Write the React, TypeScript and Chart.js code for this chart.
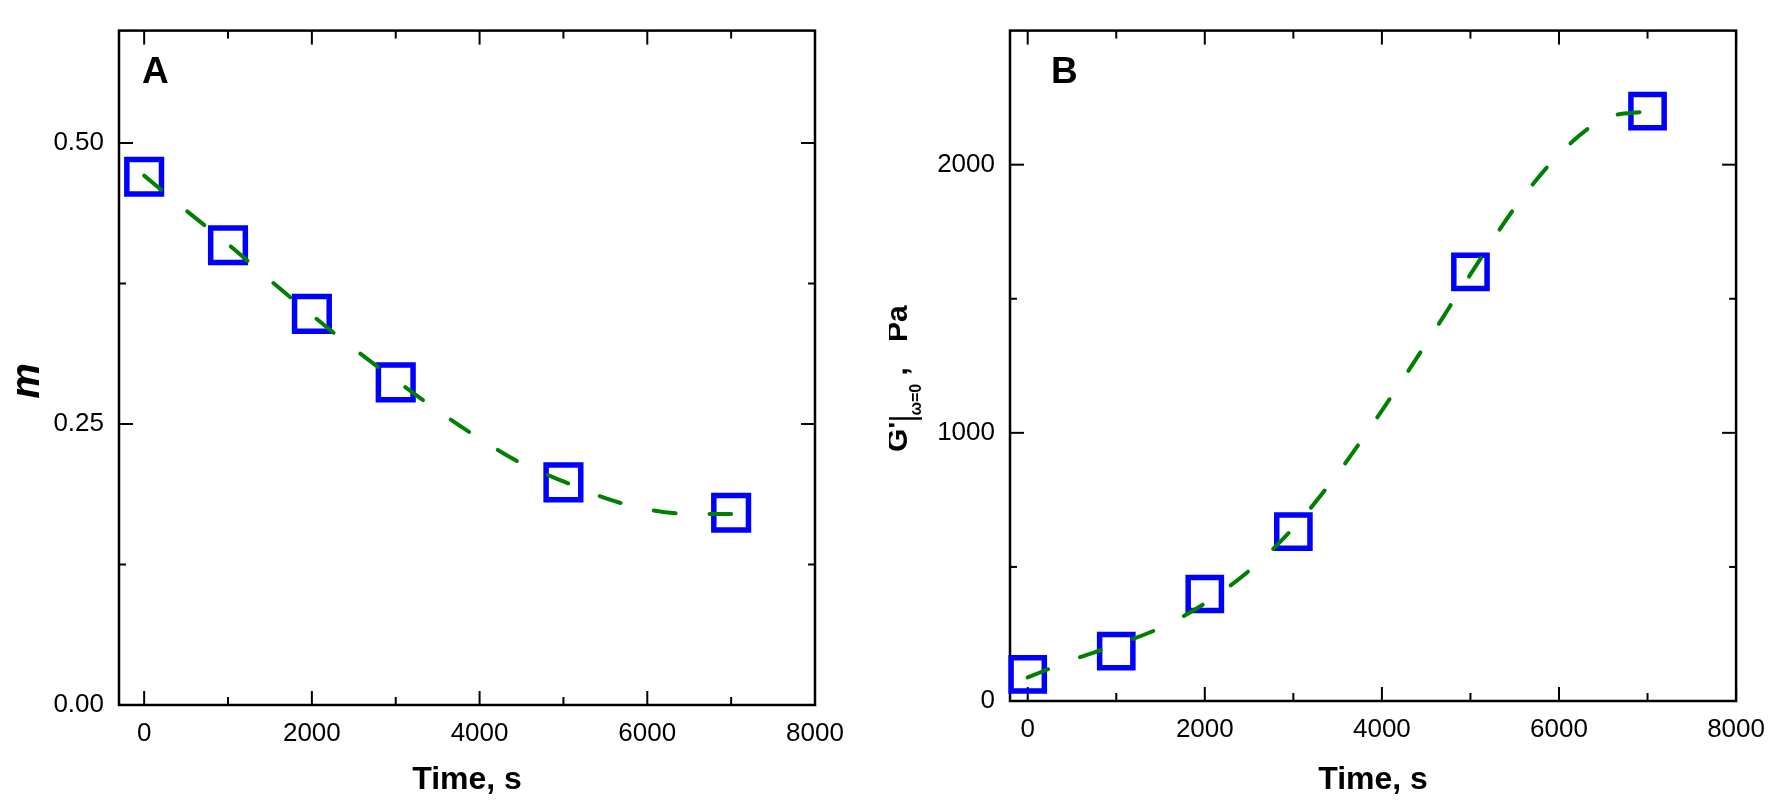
import { useEffect, useRef } from 'react';
import { Chart, registerables } from 'chart.js';

Chart.register(...registerables);

const FONT = '"Liberation Sans", Arial, Helvetica, sans-serif';

// Panel A: m vs time
const timeA = [0, 1000, 2000, 3000, 5000, 7000];
const mValues = [0.47, 0.409, 0.348, 0.287, 0.198, 0.171];
const fitTimeA = [0, 500, 1000, 1500, 2000, 2500, 3000, 3500, 4000, 4500, 5000, 5500, 6000, 6500, 7000];
const fitA = [0.471, 0.44, 0.41, 0.378, 0.347, 0.317, 0.289, 0.262, 0.237, 0.215, 0.199, 0.184, 0.174, 0.17, 0.17];

// Panel B: G' at zero frequency vs time
const timeB = [0, 1000, 2000, 3000, 5000, 7000];
const gValues = [99, 186, 399, 632, 1600, 2200];
const fitTimeB = [0, 500, 1000, 1500, 2000, 2500, 3000, 3500, 4000, 4500, 5000, 5500, 6000, 6500, 7000];
const fitB = [88, 153, 209, 273, 364, 486, 645, 848, 1083, 1333, 1591, 1839, 2038, 2170, 2200];

// ticks (every value gets a tick mark, majors get a label)
const xTicks = [0, 1000, 2000, 3000, 4000, 5000, 6000, 7000, 8000];
const yTicksA = [0, 0.125, 0.25, 0.375, 0.5];
const yTicksB = [0, 500, 1000, 1500, 2000];

const isMajor = (v: number, step: number) => Math.abs(v / step - Math.round(v / step)) < 1e-6;

interface PanelProps {
  letter: string;
  letterDx: number;
  xMin: number;
  xMax: number;
  yMin: number;
  yMax: number;
  yTicks: number[];
  yMajor: number;
  yDecimals: number;
  fitX: number[];
  fitY: number[];
  ptX: number[];
  ptY: number[];
  pointRadius: number;
  axisWidth: number;
  axisHeight: number;
  padTop: number;
  padRight: number;
  drawYTitle: (ctx: CanvasRenderingContext2D) => void;
}

function drawMTitle(ctx: CanvasRenderingContext2D) {
  ctx.save();
  ctx.translate(28, 381);
  ctx.rotate(-Math.PI / 2);
  ctx.font = `italic bold 40px ${FONT}`;
  ctx.fillStyle = '#000';
  ctx.textAlign = 'center';
  ctx.textBaseline = 'middle';
  ctx.fillText('m', 0, 0);
  ctx.restore();
}

function drawGTitle(ctx: CanvasRenderingContext2D) {
  ctx.save();
  ctx.translate(18, 452);
  ctx.rotate(-Math.PI / 2);
  ctx.fillStyle = '#000';
  ctx.strokeStyle = '#000';
  ctx.textBaseline = 'alphabetic';
  const big = `bold 30px ${FONT}`;
  const small = `bold 16px ${FONT}`;
  let x = 0;
  ctx.font = big;
  ctx.fillText("G'", x, 0);
  x += ctx.measureText("G'").width + 3;
  ctx.lineWidth = 2.5;
  ctx.beginPath();
  ctx.moveTo(x, -22);
  ctx.lineTo(x, 15);
  ctx.stroke();
  x += 3;
  ctx.font = small;
  ctx.fillText('\u03c9=0', x, 14);
  x += ctx.measureText('\u03c9=0').width;
  ctx.font = big;
  ctx.fillText(' ,   Pa', x, 0);
  ctx.restore();
}

function Panel(p: PanelProps) {
  const chartRef = useRef<HTMLCanvasElement>(null);
  const chartInstance = useRef<Chart | null>(null);

  useEffect(() => {
    if (!chartRef.current) return;
    if (chartInstance.current) chartInstance.current.destroy();

    const framePlugin = {
      id: 'frame',
      beforeDatasetsDraw(chart: any) {
        const { ctx, chartArea: a, scales } = chart;
        ctx.save();
        ctx.strokeStyle = '#000';
        ctx.lineWidth = 2.5;
        ctx.strokeRect(a.left, a.top, a.right - a.left, a.bottom - a.top);
        ctx.lineWidth = 2;
        const seg = (x1: number, y1: number, x2: number, y2: number) => {
          ctx.beginPath();
          ctx.moveTo(x1, y1);
          ctx.lineTo(x2, y2);
          ctx.stroke();
        };
        scales.x.ticks.forEach((t: any) => {
          const px = scales.x.getPixelForValue(t.value);
          const len = isMajor(t.value, 2000) ? 14 : 8;
          seg(px, a.bottom, px, a.bottom - len);
          seg(px, a.top, px, a.top + len);
        });
        scales.y.ticks.forEach((t: any) => {
          const py = scales.y.getPixelForValue(t.value);
          const len = isMajor(t.value, p.yMajor) ? 14 : 7;
          seg(a.left, py, a.left + len, py);
          seg(a.right, py, a.right - len, py);
        });
        ctx.restore();
      },
      afterDraw(chart: any) {
        const { ctx, chartArea: a } = chart;
        ctx.save();
        ctx.fillStyle = '#000';
        ctx.font = `bold 37px ${FONT}`;
        ctx.textBaseline = 'alphabetic';
        ctx.textAlign = 'left';
        ctx.fillText(p.letter, a.left + p.letterDx, 83);
        ctx.restore();
        p.drawYTitle(ctx);
      },
    };

    chartInstance.current = new Chart(chartRef.current, {
      type: 'scatter',
      data: {
        datasets: [
          {
            label: 'fit',
            data: p.fitX.map((x, i) => ({ x, y: p.fitY[i] })),
            showLine: true,
            borderColor: '#008000',
            borderWidth: 4,
            borderDash: [22, 34],
            borderCapStyle: 'round',
            pointRadius: 0,
            cubicInterpolationMode: 'monotone',
            fill: false,
            clip: false,
          } as any,
          {
            label: 'data',
            data: p.ptX.map((x, i) => ({ x, y: p.ptY[i] })),
            showLine: false,
            pointStyle: 'rect',
            pointRadius: p.pointRadius,
            pointBorderWidth: 5.5,
            pointBorderColor: '#0000ff',
            pointBackgroundColor: 'rgba(0,0,0,0)',
            clip: false,
          } as any,
        ],
      },
      options: {
        animation: false,
        responsive: true,
        maintainAspectRatio: false,
        events: [],
        layout: { padding: { top: p.padTop, right: p.padRight, left: 0, bottom: 0 } },
        plugins: { legend: { display: false }, tooltip: { enabled: false } },
        scales: {
          x: {
            type: 'linear',
            min: p.xMin,
            max: p.xMax,
            afterBuildTicks: (s: any) => {
              s.ticks = xTicks.map(v => ({ value: v }));
            },
            afterFit: (s: any) => {
              s.height = p.axisHeight;
            },
            grid: { display: false, drawTicks: false },
            border: { display: false },
            ticks: {
              autoSkip: false,
              maxRotation: 0,
              minRotation: 0,
              padding: 13,
              color: '#000',
              font: { family: FONT, size: 26 },
              callback: (v: any) => (isMajor(Number(v), 2000) ? String(v) : ''),
            },
            title: {
              display: true,
              text: 'Time, s',
              color: '#000',
              font: { family: FONT, size: 32, weight: 'bold' },
              padding: { top: 0, bottom: 7 },
            },
          },
          y: {
            type: 'linear',
            min: p.yMin,
            max: p.yMax,
            afterBuildTicks: (s: any) => {
              s.ticks = p.yTicks.map(v => ({ value: v }));
            },
            afterFit: (s: any) => {
              s.width = p.axisWidth;
            },
            grid: { display: false, drawTicks: false },
            border: { display: false },
            ticks: {
              autoSkip: false,
              padding: 15,
              color: '#000',
              font: { family: FONT, size: 26 },
              callback: (v: any) =>
                isMajor(Number(v), p.yMajor) ? Number(v).toFixed(p.yDecimals) : '',
            },
          },
        },
      },
      plugins: [framePlugin],
    });

    return () => {
      if (chartInstance.current) {
        chartInstance.current.destroy();
        chartInstance.current = null;
      }
    };
  }, []);

  return <canvas ref={chartRef} />;
}

export default function App() {
  return (
    <div style={{ position: 'absolute', left: 0, top: 0, width: 1778, height: 806, background: '#fff' }}>
      <div style={{ position: 'absolute', left: 0, top: 0, width: 889, height: 806 }}>
        <Panel
          letter="A"
          letterDx={23}
          xMin={-300}
          xMax={8000}
          yMin={0}
          yMax={0.6}
          yTicks={yTicksA}
          yMajor={0.25}
          yDecimals={2}
          fitX={fitTimeA}
          fitY={fitA}
          ptX={timeA}
          ptY={mValues}
          pointRadius={24.5}
          axisWidth={119}
          axisHeight={101}
          padTop={15}
          padRight={74}
          drawYTitle={drawMTitle}
        />
      </div>
      <div style={{ position: 'absolute', left: 889, top: 0, width: 889, height: 806 }}>
        <Panel
          letter="B"
          letterDx={41}
          xMin={-200}
          xMax={8000}
          yMin={0}
          yMax={2500}
          yTicks={yTicksB}
          yMajor={1000}
          yDecimals={0}
          fitX={fitTimeB}
          fitY={fitB}
          ptX={timeB}
          ptY={gValues}
          pointRadius={23.5}
          axisWidth={121}
          axisHeight={105}
          padTop={13}
          padRight={38}
          drawYTitle={drawGTitle}
        />
      </div>
    </div>
  );
}
